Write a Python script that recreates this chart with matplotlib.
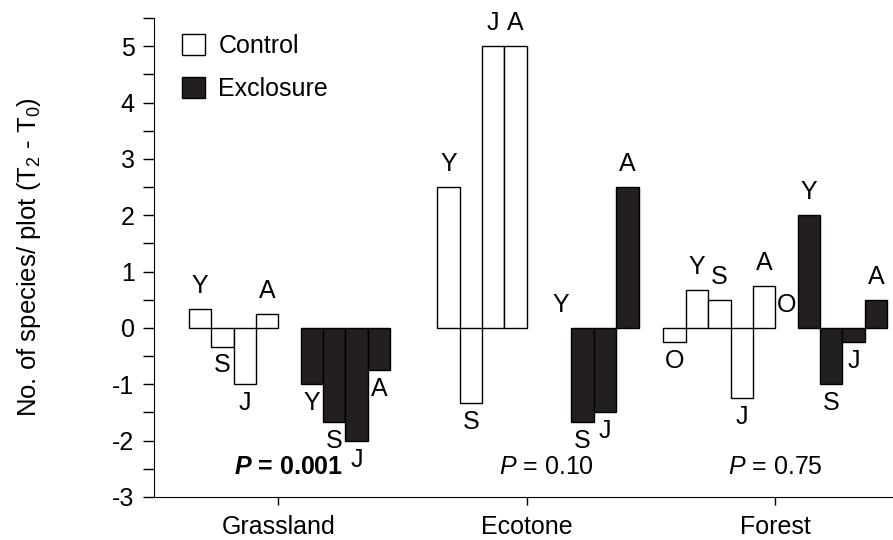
import numpy as np
import matplotlib
matplotlib.use('Agg')
from matplotlib import pyplot as plt
from matplotlib.patches import Patch

plt.rcParams['font.family'] = ['Liberation Sans', 'DejaVu Sans']
plt.rcParams['axes.unicode_minus'] = False
plt.rcParams['mathtext.fontset'] = 'custom'
plt.rcParams['mathtext.rm'] = 'Liberation Sans'
plt.rcParams['mathtext.it'] = 'Liberation Sans:italic'
plt.rcParams['mathtext.bf'] = 'Liberation Sans:bold'
plt.rcParams['mathtext.bfit'] = 'Liberation Sans:bold:italic'

""" data: change in species per plot, by stage O, Y, S, J, A (None = not sampled) """

habitats = ['Grassland', 'Ecotone', 'Forest']
stages = ['O', 'Y', 'S', 'J', 'A']

control = {
    'Grassland': [None, 0.33, -0.33, -1.0, 0.25],
    'Ecotone': [None, 2.5, -1.33, 5.0, 5.0],
    'Forest': [-0.25, 0.67, 0.5, -1.25, 0.75],
}
exclosure = {
    'Grassland': [None, -1.0, -1.67, -2.0, -0.75],
    'Ecotone': [None, 0.0, -1.67, -1.5, 2.5],
    'Forest': [0.0, 2.0, -1.0, -0.25, 0.5],
}
p_labels = [r'$\mathbfit{P}$ = 0.001', r'$\mathit{P}$ = 0.10', r'$\mathit{P}$ = 0.75']
p_bold = [True, False, False]
p_x = [0.54, 1.58, 2.5]
p_y = -2.46

FS = 18
w = 0.09  # bar width (category units)

fig = plt.figure(figsize=(8.93, 5.40), dpi=100)
ax = fig.add_axes([154 / 893, 43 / 540, 745.5 / 893, 479 / 540])


def draw_group(values, center, side, face):
    for k, (st, v) in enumerate(zip(stages, values)):
        if v is None:
            continue
        if side == 'left':
            x = center - (4.5 - k) * w
        else:
            x = center + (0.5 + k) * w
        if v != 0:
            ax.bar(x, v, width=w, color=face, edgecolor='black', linewidth=1.0, zorder=2)
        if v >= 0:
            ax.annotate(st, (x, v), xytext=(0, 8), textcoords='offset points',
                        ha='center', va='bottom', fontsize=FS)
        else:
            ax.annotate(st, (x, v), xytext=(0, -5), textcoords='offset points',
                        ha='center', va='top', fontsize=FS)


for i, h in enumerate(habitats):
    c = i + 0.5
    draw_group(control[h], c, 'left', 'white')
    draw_group(exclosure[h], c, 'right', '#231f20')
    ax.text(p_x[i], p_y, p_labels[i], ha='center', va='center', fontsize=FS,
            fontweight='bold' if p_bold[i] else 'normal')

ax.set_xlim(0, 3)
ax.set_ylim(-3, 5.5)
ax.set_xticks([0.5, 1.5, 2.5])
ax.set_xticklabels(habitats, fontsize=FS)
ax.set_yticks(np.arange(-3, 6, 1))
ax.set_yticks(np.arange(-3, 5.6, 0.5), minor=True)
ax.tick_params(axis='y', which='both', length=8, width=1, labelsize=FS, pad=6)
ax.tick_params(axis='x', length=6, width=1, pad=7)
ax.spines['top'].set_visible(False)
ax.spines['right'].set_visible(False)
ax.set_ylabel('No. of species/ plot (T$_2$ - T$_0$)', fontsize=18.5, labelpad=50)

handles = [Patch(facecolor='white', edgecolor='black', linewidth=1.0, label='Control'),
           Patch(facecolor='#231f20', edgecolor='black', linewidth=1.0, label='Exclosure')]
ax.legend(handles=handles, loc='upper left', bbox_to_anchor=(0.037, 0.967), frameon=False,
          fontsize=FS, handlelength=0.92, handleheight=0.92, handletextpad=0.55,
          labelspacing=0.75, borderpad=0, borderaxespad=0)

fig.savefig('out.png', dpi=100)
